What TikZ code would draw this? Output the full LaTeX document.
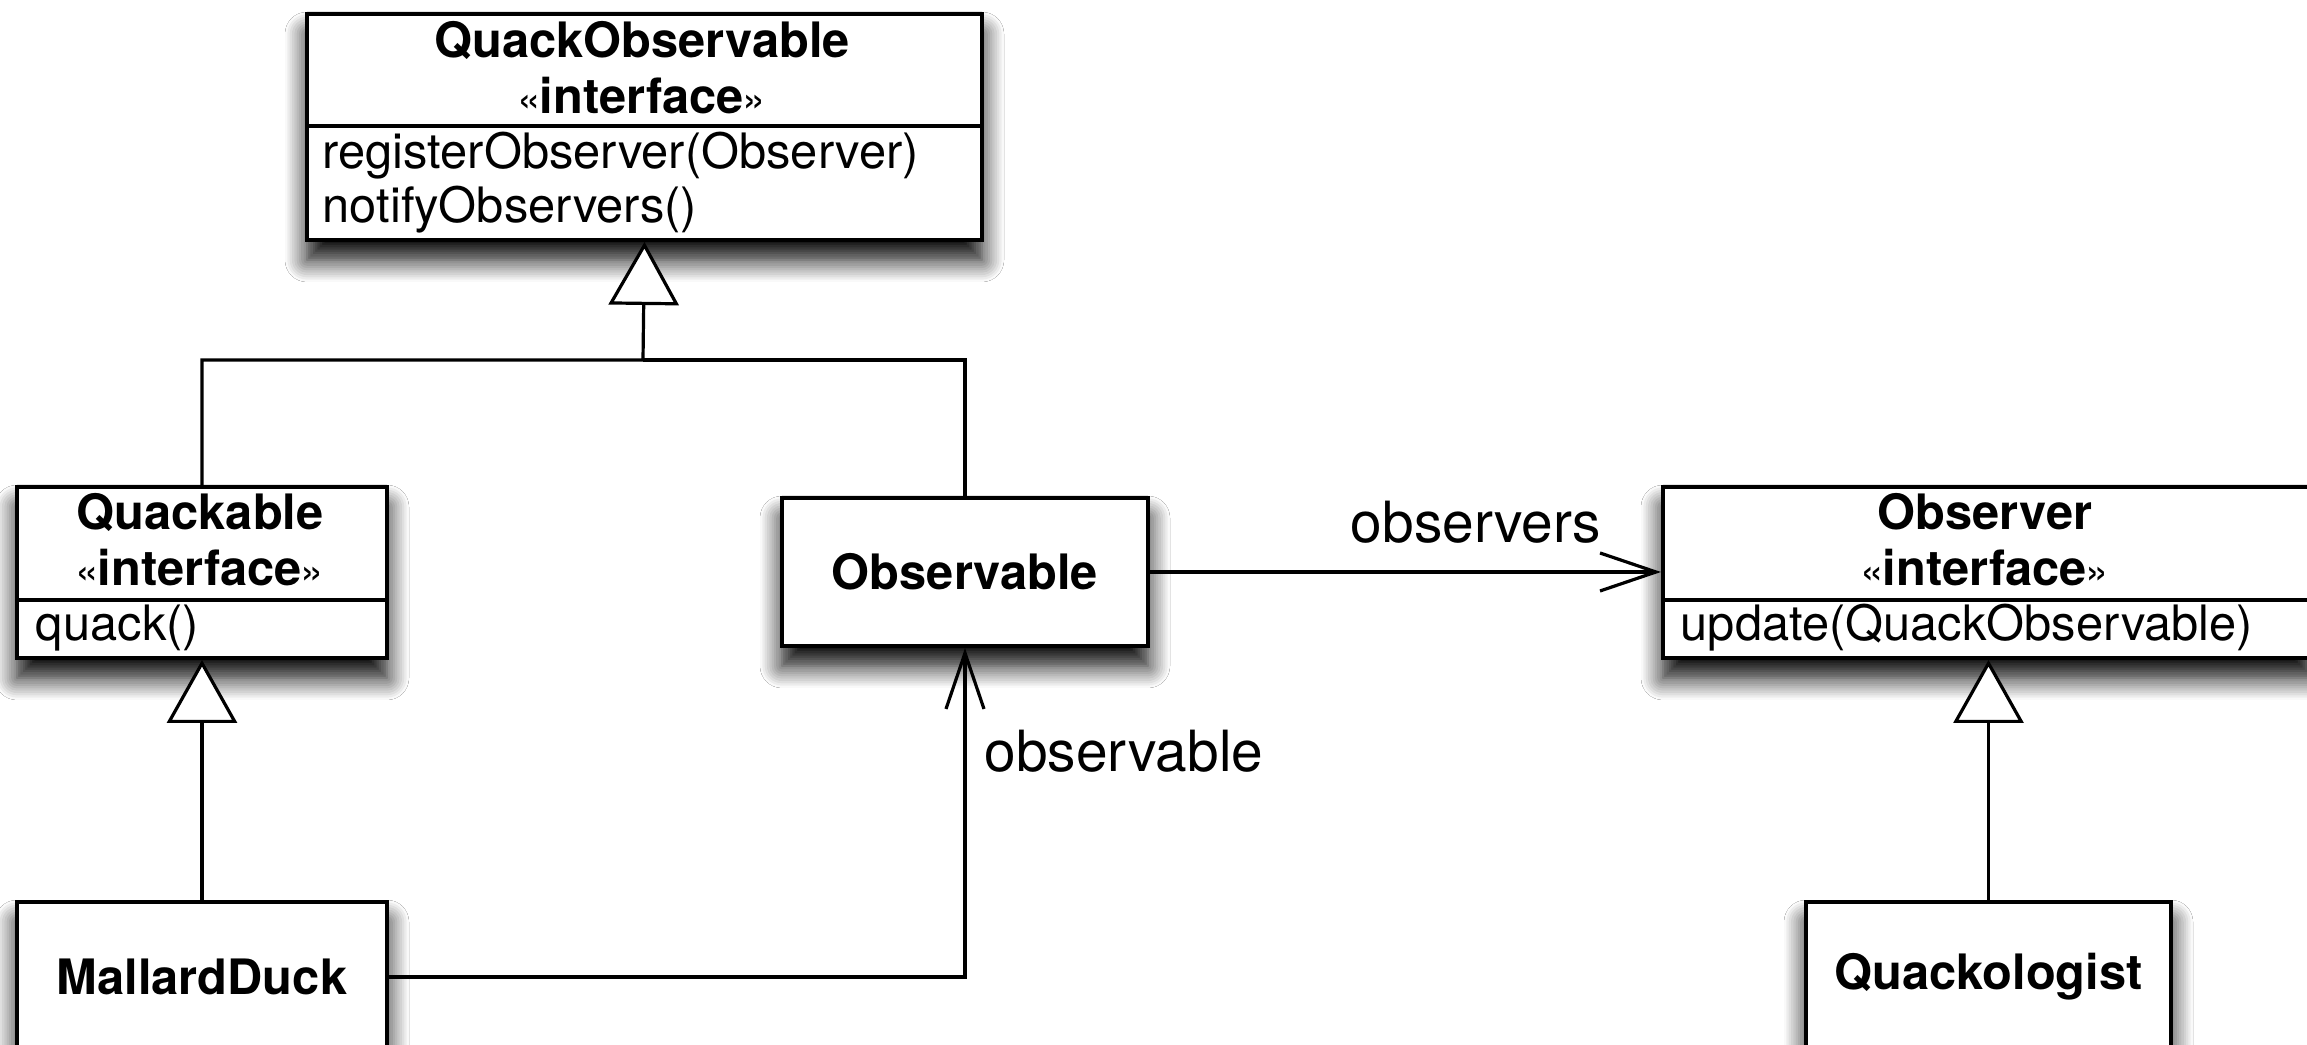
\documentclass[tikz,border=0pt]{standalone}
\usepackage{fontspec}
\setmainfont{TeX Gyre Heros}
\usetikzlibrary{arrows.meta,shadows.blur}
\newcommand{\lgq}{{\mdseries\fontsize{10.5}{12}\selectfont«}}
\newcommand{\rgq}{{\mdseries\fontsize{10.5}{12}\selectfont»}}
\begin{document}
\begin{tikzpicture}[x=0.25pt,y=-0.25pt,
  classbox/.style={draw, line width=1pt, fill=white, rectangle, inner sep=0pt,
    anchor=north west,
    blur shadow={shadow xshift=0pt, shadow yshift=-5pt, shadow blur radius=5.5pt, shadow opacity=100, shadow blur steps=10}},
  boxfont/.style={font=\fontsize{12.2}{13.5}\selectfont},
  ctitle/.style={boxfont, font=\fontsize{12.2}{13.5}\selectfont\bfseries, inner sep=0pt},
  cmember/.style={boxfont, inner sep=0pt, anchor=west},
  sepline/.style={line width=1pt},
  lbl/.style={font=\fontsize{14.2}{16}\selectfont, inner sep=0pt},
  gen/.style={draw, line width=0.8pt, -{Triangle[fill=white, length=15.75pt, width=17.5pt]}},
  conn/.style={draw, line width=0.8pt},
  assoc/.style={draw, line width=0.8pt, -{Straight Barb[length=14pt, width=9.5pt]}}
]
\useasboundingbox (0,0) rectangle (2307,1045);
\clip (0,0) rectangle (2307,1045);
\fill[white] (0,0) rectangle (2307,1045);

% QuackObservable
\node[classbox, minimum width=168.75pt, minimum height=56.5pt] (QO) at (305,12) {};
\node[ctitle] (QOt) at (642,40) {QuackObservable};
\node[ctitle] (QOs) at (642,96) {\lgq\kern-0.3pt interface\kern-0.3pt\rgq};
\draw[sepline] (QO.west |- 0,126) -- (QO.east |- 0,126);
\node[cmember] (QOm1) at (322,156) {registerObserver(Observer)};
\node[cmember] (QOm2) at (322,210) {notifyObservers()};

% Quackable
\node[classbox, minimum width=92.5pt, minimum height=42.75pt] (QA) at (15,485) {};
\node[ctitle] (QAt) at (200,512) {Quackable};
\node[ctitle] (QAs) at (200,568) {\lgq\kern-0.3pt interface\kern-0.3pt\rgq};
\draw[sepline] (QA.west |- 0,600) -- (QA.east |- 0,600);
\node[cmember] (QAm1) at (35,628) {quack()};

% Observable
\node[classbox, minimum width=91.5pt, minimum height=37pt, ctitle] (OB) at (780,496) {Observable};

% Observer
\node[classbox, minimum width=162.5pt, minimum height=42.75pt] (OR) at (1661,485) {};
\node[ctitle] (ORt) at (1985,512) {Observer};
\node[ctitle] (ORs) at (1985,568) {\lgq\kern-0.3pt interface\kern-0.3pt\rgq};
\draw[sepline] (OR.west |- 0,600) -- (OR.east |- 0,600);
\node[cmember] (ORm1) at (1680,628) {update(QuackObservable)};

% MallardDuck
\node[classbox, minimum width=92.5pt, minimum height=37.5pt, ctitle] (MD) at (15,900) {MallardDuck};

% Quackologist
\node[classbox, minimum width=91.25pt, minimum height=37.5pt, ctitle] (QL) at (1804,900) {Quackologist};

% connectors
\coordinate (J) at (643,360);
\draw[gen] (QA.north) |- (J) -- (QO.south);
\draw[conn] (OB.north) |- (J);
\draw[gen] (MD.north) -- (QA.south);
\draw[gen] (QL.north) -- (QL.north |- OR.south);
\draw[assoc] (OB.east) -- (OR.west |- OB.east);
\draw[assoc] (MD.east) -| (OB.south);

\node[lbl] (Lobs) at (1476,522) {observers};
\node[lbl] (Lobl) at (1124,751) {observable};
\end{tikzpicture}
\end{document}
